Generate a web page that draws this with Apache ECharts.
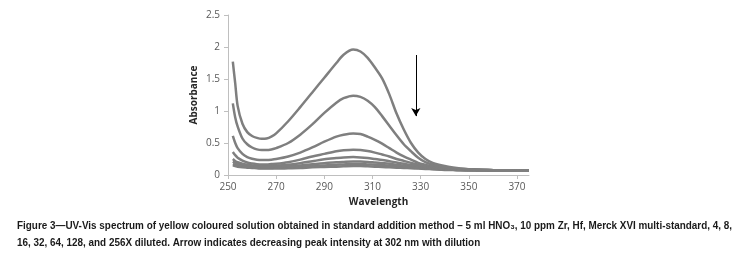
<!DOCTYPE html>
<html>
<head>
<meta charset="utf-8">
<script src="https://cdn.jsdelivr.net/npm/echarts@6/dist/echarts.min.js"></script>
<style>
  html, body { margin: 0; padding: 0; background: #fff; }
  #chart { width: 756px; height: 270px; }
</style>
</head>
<body>
<div id="chart"></div>
<script>
// 波长网格 (nm)
const wavelengths = [252, 253, 254, 256, 258, 260, 262, 264, 266, 268, 270, 275, 280, 285, 290, 295, 298, 302, 305, 308, 311, 314, 317, 320, 323, 326, 329, 332, 335, 340, 345, 350, 360, 375]

// 各稀释度的吸光度
const absUndiluted = [1.77, 1.43, 1.08, 0.80, 0.67, 0.61, 0.58, 0.565, 0.57, 0.60, 0.65, 0.84, 1.06, 1.29, 1.52, 1.75, 1.88, 1.96, 1.93, 1.83, 1.68, 1.51, 1.26, 0.96, 0.71, 0.50, 0.35, 0.25, 0.19, 0.14, 0.11, 0.09, 0.08, 0.07]
const abs4x = [1.12, 0.90, 0.76, 0.57, 0.48, 0.43, 0.40, 0.39, 0.39, 0.40, 0.42, 0.50, 0.63, 0.79, 0.97, 1.13, 1.20, 1.24, 1.22, 1.16, 1.06, 0.92, 0.77, 0.62, 0.48, 0.37, 0.27, 0.20, 0.16, 0.12, 0.10, 0.09, 0.075, 0.065]
const abs8x = [0.61, 0.50, 0.42, 0.33, 0.28, 0.255, 0.24, 0.235, 0.235, 0.24, 0.25, 0.29, 0.35, 0.43, 0.52, 0.60, 0.63, 0.65, 0.64, 0.60, 0.55, 0.49, 0.42, 0.35, 0.29, 0.24, 0.19, 0.16, 0.135, 0.11, 0.095, 0.085, 0.075, 0.065]
const abs16x = [0.36, 0.31, 0.27, 0.225, 0.195, 0.18, 0.17, 0.165, 0.165, 0.17, 0.175, 0.20, 0.24, 0.29, 0.33, 0.37, 0.385, 0.395, 0.39, 0.375, 0.35, 0.32, 0.29, 0.25, 0.22, 0.19, 0.16, 0.14, 0.12, 0.10, 0.09, 0.085, 0.075, 0.065]
const abs32x = [0.25, 0.22, 0.20, 0.175, 0.16, 0.15, 0.145, 0.14, 0.14, 0.14, 0.145, 0.16, 0.185, 0.215, 0.245, 0.265, 0.275, 0.28, 0.275, 0.265, 0.25, 0.235, 0.215, 0.195, 0.175, 0.155, 0.14, 0.125, 0.11, 0.095, 0.085, 0.08, 0.07, 0.065]
const abs64x = [0.21, 0.19, 0.175, 0.155, 0.14, 0.13, 0.125, 0.12, 0.12, 0.12, 0.125, 0.135, 0.15, 0.17, 0.185, 0.20, 0.205, 0.21, 0.21, 0.205, 0.195, 0.185, 0.175, 0.16, 0.145, 0.135, 0.12, 0.11, 0.10, 0.09, 0.08, 0.075, 0.07, 0.065]
const abs128x = [0.17, 0.16, 0.15, 0.135, 0.125, 0.12, 0.115, 0.11, 0.11, 0.11, 0.115, 0.12, 0.13, 0.14, 0.15, 0.16, 0.165, 0.17, 0.17, 0.165, 0.16, 0.155, 0.145, 0.135, 0.125, 0.12, 0.11, 0.10, 0.095, 0.085, 0.08, 0.075, 0.07, 0.065]
const abs256x = [0.15, 0.14, 0.13, 0.12, 0.115, 0.11, 0.105, 0.10, 0.10, 0.10, 0.10, 0.105, 0.11, 0.12, 0.125, 0.13, 0.135, 0.14, 0.14, 0.135, 0.13, 0.125, 0.12, 0.115, 0.11, 0.105, 0.10, 0.095, 0.09, 0.08, 0.075, 0.07, 0.068, 0.065]

const curves = [absUndiluted, abs4x, abs8x, abs16x, abs32x, abs64x, abs128x, abs256x]

// 箭头 (峰值随稀释降低)
const arrowFrom = [328, 1.875]
const arrowTo = [328, 0.92]

const captionLine1 = 'Figure 3\u2014UV-Vis spectrum of yellow coloured solution obtained in standard addition method \u2013 5 ml HNO\u2083, 10 ppm Zr, Hf, Merck XVI multi-standard, 4, 8,'
const captionLine2 = '16, 32, 64, 128, and 256X diluted. Arrow indicates decreasing peak intensity at 302 nm with dilution'

const chart = echarts.init(document.getElementById('chart'), null, { renderer: 'canvas' })

// 计算标题横向压缩比例 (原图字体偏窄)
const captionFont = 'bold 11.5px "Liberation Sans", Arial, sans-serif'
const measureCtx = document.createElement('canvas').getContext('2d')
measureCtx.font = captionFont
const captionScale = 715 / measureCtx.measureText(captionLine1).width

const axisColor = '#bfbfbf'
const labelColor = '#595959'
const lineColor = '#7f7f7f'

const series = curves.map((vals, i) => ({
  type: 'line',
  data: wavelengths.map((w, j) => [w, vals[j]]),
  smooth: 0.3,
  symbol: 'none',
  lineStyle: { width: 2.5, color: lineColor },
  z: 10 - i
}))

series[0].markLine = {
  silent: true,
  symbol: ['none', 'arrow'],
  symbolSize: [7, 8],
  label: { show: false },
  lineStyle: { color: '#000', width: 1, type: 'solid' },
  data: [[{ coord: arrowFrom }, { coord: arrowTo }]]
}

const option = {
  animation: false,
  grid: { left: 228, right: 227, top: 15, bottom: 95 },
  xAxis: {
    type: 'value',
    min: 250,
    max: 375,
    interval: 20,
    name: 'Wavelength',
    nameLocation: 'middle',
    nameGap: 22,
    nameTextStyle: { color: '#262626', fontSize: 10, fontWeight: 'bold', fontFamily: 'Open Sans' },
    axisLine: { lineStyle: { color: axisColor } },
    axisTick: { show: true, length: 4, lineStyle: { color: axisColor } },
    axisLabel: { showMaxLabel: false, color: labelColor, fontSize: 10, margin: 7, fontFamily: 'Open Sans' },
    splitLine: { show: false }
  },
  yAxis: {
    type: 'value',
    min: 0,
    max: 2.5,
    interval: 0.5,
    name: 'Absorbance',
    nameLocation: 'middle',
    nameGap: 29,
    nameTextStyle: { color: '#262626', fontSize: 10, fontWeight: 'bold', fontFamily: 'Open Sans' },
    axisLine: { show: true, lineStyle: { color: axisColor } },
    axisTick: { show: true, length: 4, lineStyle: { color: axisColor } },
    axisLabel: { color: labelColor, fontSize: 10, margin: 8, fontFamily: 'Open Sans' },
    splitLine: { show: false }
  },
  graphic: [
    {
      type: 'text',
      left: 17,
      top: 220,
      scaleX: captionScale,
      style: { text: captionLine1, font: captionFont, fill: '#1a1a1a' }
    },
    {
      type: 'text',
      left: 17,
      top: 237,
      scaleX: captionScale,
      style: { text: captionLine2, font: captionFont, fill: '#1a1a1a' }
    }
  ],
  series: series
}

chart.setOption(option)
</script>
</body>
</html>
